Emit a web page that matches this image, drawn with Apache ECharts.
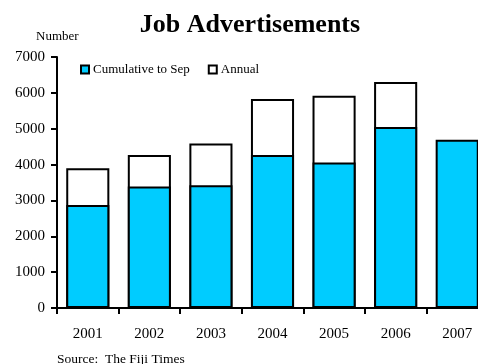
<!DOCTYPE html>
<html>
<head>
<meta charset="utf-8">
<script src="https://cdn.jsdelivr.net/npm/echarts@6/dist/echarts.min.js"></script>
<style>
  html, body { margin: 0; padding: 0; background: #fff; }
  #chart { width: 478px; height: 364px; }
</style>
</head>
<body>
<div id="chart"></div>
<script>
// Job advertisements per year: January–September count and the full-year total
const years = ['2001', '2002', '2003', '2004', '2005', '2006', '2007'];
const cumulativeToSep = [2870, 3390, 3420, 4270, 4060, 5045, 4690];
const annual = [3900, 4270, 4590, 5830, 5920, 6300, null];
const yTicks = { min: 0, max: 7000, step: 1000 };

const serif = '"Liberation Serif", "DejaVu Serif", serif';
const chart = echarts.init(document.getElementById('chart'), null, { renderer: 'canvas' });

chart.setOption({
  animation: false,
  backgroundColor: '#ffffff',
  title: [
    {
      text: 'Job Advertisements',
      left: 250, top: 12, textAlign: 'center', padding: 0,
      textStyle: { fontFamily: serif, fontSize: 26, fontWeight: 'bold', color: '#000' }
    },
    {
      text: 'Number',
      left: 36, top: 30, padding: 0,
      textStyle: { fontFamily: serif, fontSize: 13, fontWeight: 'normal', color: '#000' }
    },
    {
      text: 'Source:  The Fiji Times',
      left: 57, top: 352, padding: 0,
      textStyle: { fontFamily: serif, fontSize: 13.5, fontWeight: 'normal', color: '#000' }
    }
  ],
  legend: {
    left: 75, top: 58,
    itemWidth: 8, itemHeight: 8, itemGap: 18,
    icon: 'rect',
    data: ['Cumulative to Sep', 'Annual'],
    textStyle: { fontFamily: serif, fontSize: 13, color: '#000', padding: [0, 0, 0, -1] }
  },
  grid: { left: 57, top: 57, width: 431, height: 251, outerBoundsMode: 'none' },
  xAxis: {
    type: 'category',
    data: years,
    axisLine: { lineStyle: { color: '#000', width: 2 } },
    axisTick: { show: true, alignWithLabel: false, length: 6, lineStyle: { color: '#000', width: 2 } },
    axisLabel: { fontFamily: serif, fontSize: 15, color: '#000', margin: 19 }
  },
  yAxis: {
    type: 'value',
    min: yTicks.min, max: yTicks.max, interval: yTicks.step,
    axisLine: { show: true, lineStyle: { color: '#000', width: 2 } },
    axisTick: { show: true, length: 6, lineStyle: { color: '#000', width: 2 } },
    splitLine: { show: false },
    axisLabel: {
      fontFamily: serif, fontSize: 15, color: '#000', margin: 12,
      formatter: (v) => String(v)
    }
  },
  series: [
    {
      name: 'Annual',
      type: 'bar',
      data: annual,
      barWidth: '70%',
      z: 1,
      itemStyle: { color: '#ffffff', borderColor: '#000', borderWidth: 2 }
    },
    {
      name: 'Cumulative to Sep',
      type: 'bar',
      data: cumulativeToSep,
      barWidth: '70%',
      barGap: '-100%',
      z: 2,
      itemStyle: { color: '#00ccff', borderColor: '#000', borderWidth: 2 }
    }
  ]
});
</script>
</body>
</html>
